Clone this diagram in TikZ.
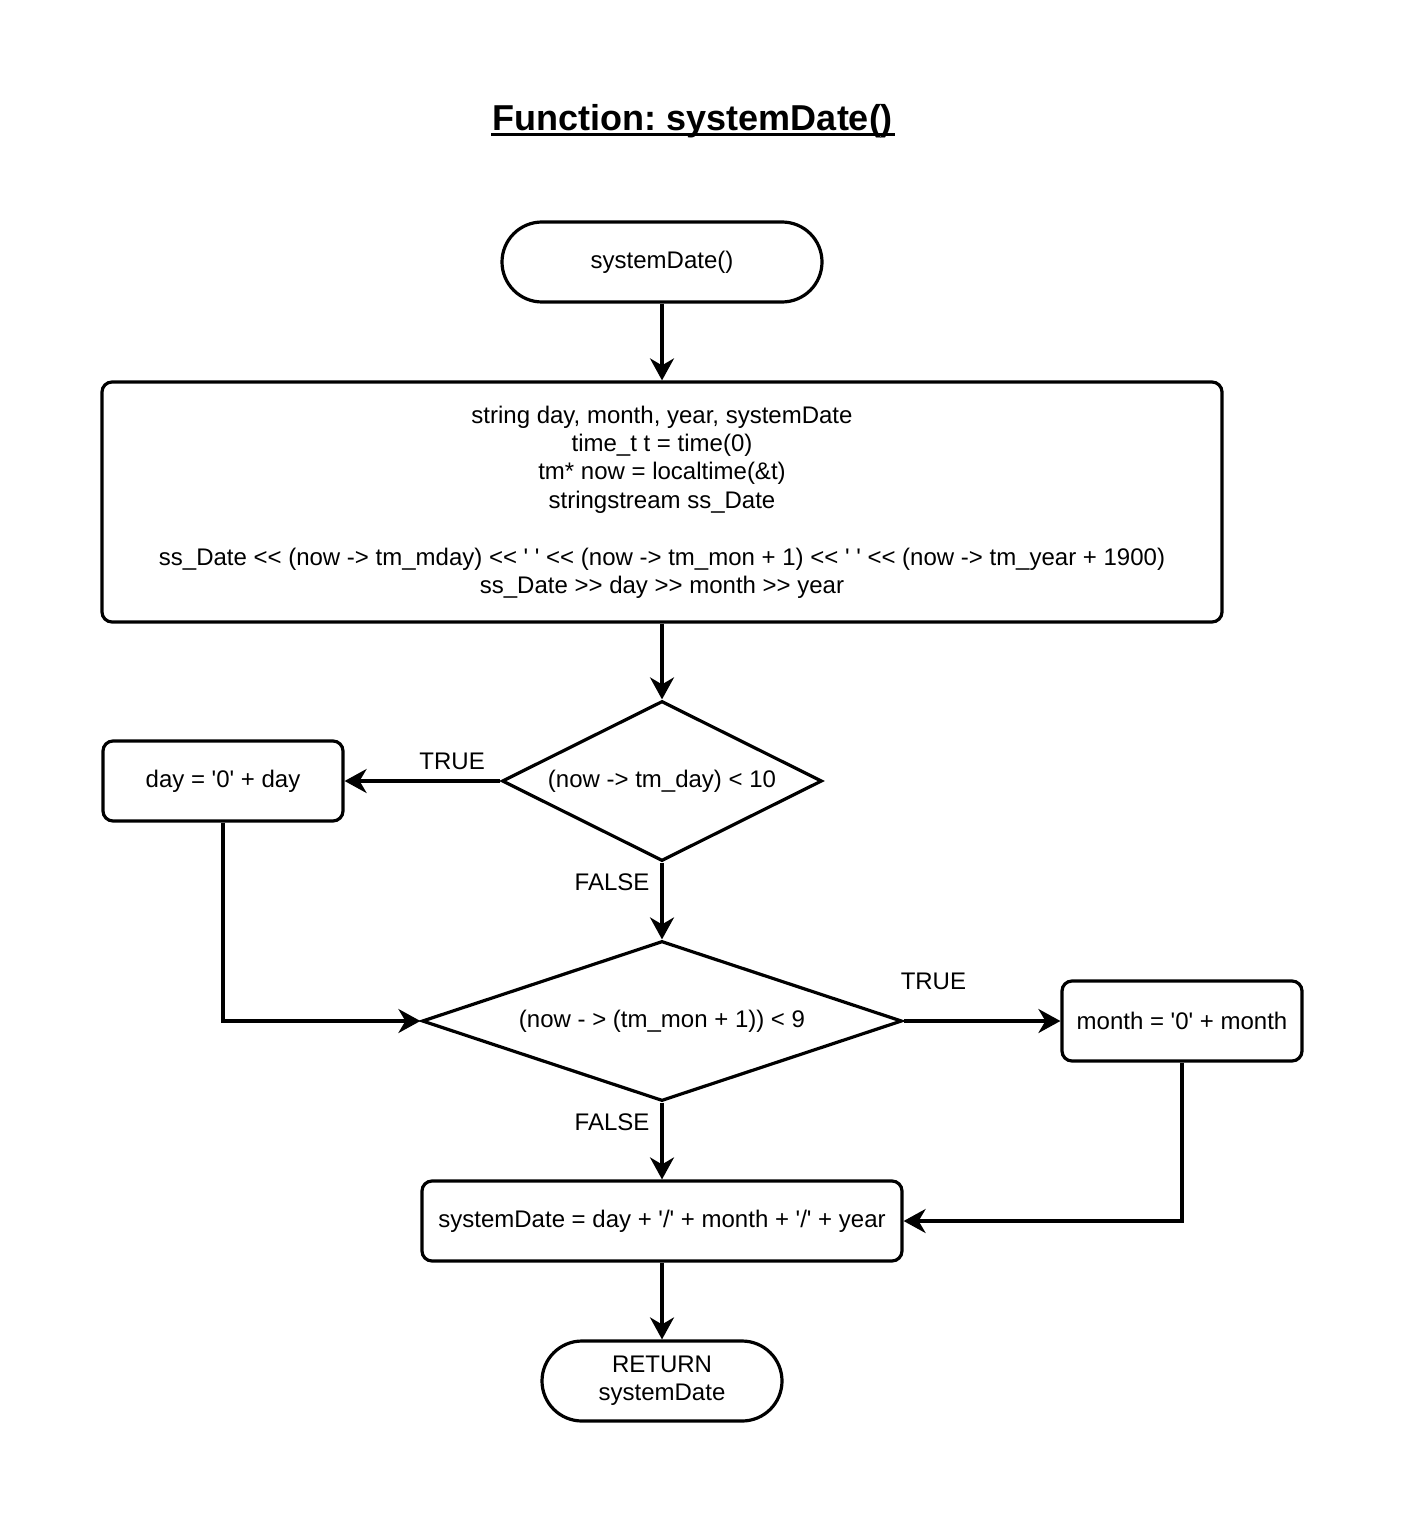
\documentclass[tikz,border=0pt]{standalone}
\usepackage{fontspec}
\setmainfont{Liberation Sans}[Ligatures=TeXOff]
\usetikzlibrary{arrows.meta, positioning, shapes.geometric}
\frenchspacing

\begin{document}
\begin{tikzpicture}[x=0.5pt, y=-0.5pt, line width=1.6pt, ->, >={Stealth[length=11pt,width=12pt,inset=3.5pt]}, font=\fontsize{12}{14.2}\selectfont]
\tikzstyle{block}=[draw, rounded corners=5pt, align=center, inner sep=2pt]
\tikzstyle{terminal}=[block, rounded corners=20pt, minimum height=40pt]
\tikzstyle{process}=[block, minimum height=40pt, minimum width=120pt]
\tikzstyle{decision}=[draw, diamond, inner sep=0pt, align=center, minimum height=80pt]
\tikzstyle{annot} = [inner sep=0pt]

% Specify the column of the main flow
\def\midx{662}

\useasboundingbox (0,0) rectangle (1404,1524);

% Draw the title
\node[annot, font=\fontsize{18}{22}\selectfont\bfseries] (title) at (693,121) {Function: systemDate()};
\draw[-, line width=1.3pt] ([yshift=-2.2pt]title.base west) -- ([yshift=-2.2pt]title.base east);

% Draw the main flow nodes
\node[terminal, minimum width=160pt] (start) at (\midx,262) {systemDate()};
\node[block, minimum width=560pt, minimum height=120pt] (init) at (\midx,502)
  {string day, month, year, systemDate\\
   time\_t t = time(0)\\
   tm* now = localtime(\&t)\\
   stringstream ss\_Date\\[14.2pt]
   ss\_Date << (now -> tm\_mday) << ' ' << (now -> tm\_mon + 1) << ' ' << (now -> tm\_year + 1900)\\
   ss\_Date >> day >> month >> year};
\node[decision, aspect=2, minimum width=160pt] (dec-day) at (\midx,781) {(now -> tm\_day) < 10};
\node[decision, aspect=3, minimum width=240pt] (dec-month) at (\midx,1021) {(now - > (tm\_mon + 1)) < 9};
\node[process, minimum width=240pt] (assign) at (\midx,1221) {systemDate = day + '/' + month + '/' + year};
\node[terminal, minimum width=120pt] (stop) at (\midx,1381) {RETURN\\systemDate};

% Draw the side nodes
\node[process] (day) at (223,781) {day = '0' + day};
\node[process] (month) at (1182,1021) {month = '0' + month};

% Connect the main flow
\draw (start) -- (init);
\draw (init) -- (dec-day);
\draw (dec-day) -- node[annot, pos=0.26, left=5.5pt] {FALSE} (dec-month);
\draw (dec-month) -- node[annot, pos=0.26, left=5.5pt] {FALSE} (assign);
\draw (assign) -- (stop);

% Connect the TRUE branches
\draw (dec-day) -- node[annot, pos=0.31, above=4.7pt] {TRUE} (day);
\draw (day) |- (dec-month);
\draw (dec-month) -- node[annot, pos=0.19, above=14.7pt] {TRUE} (month);
\draw (month) |- (assign);

\end{tikzpicture}
\end{document}
